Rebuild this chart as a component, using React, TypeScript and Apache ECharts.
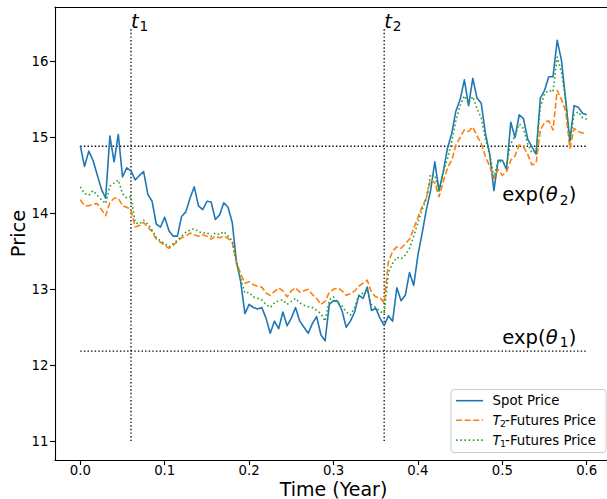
import React, { useEffect, useRef } from "react";
import * as echarts from "echarts";

// ---- data ----
const TIME_STEP = 0.005; // years between samples, t = 0 ... 0.6

const spotPrice = [
  14.89, 14.62, 14.82, 14.70, 14.51, 14.32, 14.20, 15.02, 14.68, 15.04,
  14.48, 14.60, 14.56, 14.44, 14.50, 14.55, 14.25, 14.16, 13.86, 13.82,
  13.95, 13.77, 13.70, 13.70, 13.96, 14.02, 14.20, 14.35, 14.10, 14.05,
  14.16, 14.15, 13.92, 13.98, 14.14, 14.08, 13.88, 13.36, 13.10, 12.68,
  12.80, 12.76, 12.74, 12.76, 12.62, 12.42, 12.58, 12.48, 12.70, 12.52,
  12.62, 12.76, 12.58, 12.50, 12.42, 12.55, 12.64, 12.40, 12.32, 12.80,
  12.85, 12.84, 12.72, 12.50, 12.58, 12.70, 12.92, 12.88, 13.03, 12.72,
  12.75, 12.62, 12.52, 12.65, 12.58, 13.02, 12.85, 12.92, 13.22, 13.05,
  13.45, 13.74, 14.05, 14.30, 14.68, 14.30, 14.55, 14.86, 15.05, 15.35,
  15.50, 15.76, 15.42, 15.78, 15.52, 15.45, 15.05, 14.78, 14.30, 14.70,
  14.70, 14.58, 15.20, 15.00, 15.30, 15.25, 14.98, 14.88, 14.78, 15.52,
  15.62, 15.80, 15.80, 16.28, 16.02, 15.50, 14.95, 15.42, 15.40, 15.32,
  15.30,
];

const t2FuturesPrice = [
  14.18, 14.10, 14.10, 14.12, 14.13, 14.05, 13.97, 14.14, 14.20, 14.20,
  14.10, 14.08, 14.05, 13.82, 13.84, 13.88, 13.82, 13.76, 13.66, 13.62,
  13.58, 13.54, 13.58, 13.63, 13.68, 13.70, 13.74, 13.72, 13.70, 13.72,
  13.70, 13.66, 13.70, 13.68, 13.70, 13.67, 13.62, 13.36, 13.20, 13.08,
  13.10, 13.06, 13.04, 13.03, 12.95, 12.92, 12.97, 13.02, 12.98, 12.90,
  12.98, 13.02, 12.96, 12.98, 13.00, 12.93, 12.88, 12.80, 12.84, 12.96,
  13.00, 13.02, 12.98, 12.92, 12.94, 12.98, 13.04, 13.08, 13.12, 12.96,
  12.90, 12.89, 12.82, 13.36, 13.50, 13.56, 13.54, 13.60, 13.66, 13.80,
  13.95, 14.09, 14.20, 14.45, 14.40, 14.22, 14.42, 14.60, 14.70, 14.90,
  15.00, 15.10, 15.08, 15.14, 15.02, 14.92, 14.75, 14.62, 14.46, 14.58,
  14.50, 14.55, 14.70, 14.76, 14.90, 14.88, 14.78, 14.64, 14.66, 15.10,
  15.20, 15.22, 15.10, 15.62, 15.50, 15.35, 14.86, 15.12, 15.08, 15.06,
  15.06,
];

const t1FuturesPrice = [
  14.35, 14.26, 14.24, 14.30, 14.24, 14.18, 14.13, 14.36, 14.40, 14.44,
  14.26, 14.20, 14.22, 13.88, 13.86, 13.91, 13.86, 13.78, 13.68, 13.64,
  13.60, 13.56, 13.60, 13.65, 13.70, 13.75, 13.78, 13.80, 13.76, 13.74,
  13.75, 13.70, 13.74, 13.72, 13.76, 13.70, 13.64, 13.34, 13.14, 12.95,
  12.96, 12.90, 12.88, 12.86, 12.80, 12.76, 12.82, 12.85, 12.86, 12.80,
  12.84, 12.88, 12.82, 12.79, 12.77, 12.76, 12.72, 12.68, 12.58, 12.86,
  12.90, 12.82, 12.78, 12.70, 12.66, 12.76, 12.92, 12.95, 12.99, 12.80,
  12.76, 12.71, 12.68, 13.22, 13.34, 13.42, 13.40, 13.45, 13.54, 13.70,
  13.88, 14.05, 14.20, 14.52, 14.50, 14.28, 14.55, 14.72, 14.95, 15.22,
  15.42, 15.55, 15.45, 15.54, 15.38, 15.26, 14.98, 14.78, 14.48, 14.70,
  14.66, 14.65, 14.92, 15.02, 15.18, 15.12, 14.92, 14.80, 14.82, 15.40,
  15.58, 15.62, 15.60, 16.06, 15.86, 15.50, 14.94, 15.30, 15.34, 15.26,
  15.24,
];

const xTicks = [0, 0.1, 0.2, 0.3, 0.4, 0.5, 0.6];
const yTicks = [11, 12, 13, 14, 15, 16];

const maturityTimes = [0.06, 0.36]; // t1, t2
const maturityLabels = ["1", "2"];
const verticalLineSpan = [11, 16.45];
const thetaLevels = [12.185, 14.885]; // exp(theta1), exp(theta2)
const thetaLabelY = [12.28, 14.16];
const thetaLabelX = 0.5;
const horizontalLineSpan = [0, 0.6];

const legendItems = [
  { main: "Spot Price", italic: "", sub: "" },
  { main: "-Futures Price", italic: "T", sub: "2" },
  { main: "-Futures Price", italic: "T", sub: "1" },
];

// ---- styles ----
const FONT = "'DejaVu Sans', sans-serif";
const BLUE = "#1f77b4";
const ORANGE = "#ff7f0e";
const GREEN = "#2ca02c";
const LW = 1.6;
const DASH = [6, 2.6];
const DOT = [1.6, 2.6];
const REF_DOT = [1.4, 2.2];

const toPoints = (vals: number[]) =>
  vals.map((v, i) => [Number((i * TIME_STEP).toFixed(3)), v]);

const CENTRAL = 0.346; // central baseline offset (em) for DejaVu Sans

type Part = { text: string; dx: number; dy?: number; size: number; italic?: boolean };

const mathText = (x0: number, base: number, parts: Part[]) =>
  parts.map((p) => ({
    type: "text",
    x: x0 + p.dx,
    y: base + (p.dy || 0) - CENTRAL * p.size,
    silent: true,
    z: 100,
    style: {
      text: p.text,
      fontSize: p.size,
      fontStyle: p.italic ? "italic" : "normal",
      fontFamily: FONT,
      fill: "#000",
      align: "left",
      verticalAlign: "middle",
    },
  }));

export default function App() {
  const ref = useRef<HTMLDivElement>(null);

  useEffect(() => {
    if (!ref.current) return;
    const chart = echarts.init(ref.current, undefined, { renderer: "svg" });

    const refLine = (data: number[][]) => ({
      type: "line",
      data,
      symbol: "none",
      silent: true,
      color: "#000",
      lineStyle: { color: "#000", width: 1.3, type: REF_DOT, cap: "butt" },
      z: 1,
    });

    const series: any[] = [];
    maturityTimes.forEach((t) =>
      series.push(refLine([[t, verticalLineSpan[0]], [t, verticalLineSpan[1]]]))
    );
    thetaLevels.forEach((lv) =>
      series.push(refLine([[horizontalLineSpan[0], lv], [horizontalLineSpan[1], lv]]))
    );
    series.push(
      {
        type: "line",
        name: "Spot Price",
        data: toPoints(spotPrice),
        symbol: "none",
        color: BLUE,
        lineStyle: { color: BLUE, width: LW, join: "round" },
        z: 2,
      },
      {
        type: "line",
        name: "T2-Futures Price",
        data: toPoints(t2FuturesPrice),
        symbol: "none",
        color: ORANGE,
        lineStyle: { color: ORANGE, width: LW, type: DASH, cap: "butt", join: "round" },
        z: 3,
      },
      {
        type: "line",
        name: "T1-Futures Price",
        data: toPoints(t1FuturesPrice),
        symbol: "none",
        color: GREEN,
        lineStyle: { color: GREEN, width: LW, type: DOT, cap: "butt", join: "round" },
        z: 4,
      }
    );

    const axisLineStyle = { color: "#000", width: 1.1 };
    const labelStyle = { color: "#000", fontSize: 13.3, lineHeight: 13.3, fontFamily: FONT };

    chart.setOption({
      animation: false,
      backgroundColor: "#fff",
      grid: { left: 55, top: 7, right: 0, bottom: 39, containLabel: false },
      xAxis: [
        {
          type: "value",
          min: -0.03,
          max: 0.624,
          position: "bottom",
          axisLine: { show: true, onZero: false, lineStyle: axisLineStyle },
          axisTick: { show: true, length: 5, customValues: xTicks, lineStyle: axisLineStyle },
          axisLabel: {
            ...labelStyle,
            customValues: xTicks,
            margin: 3.7,
            formatter: (v: number) => v.toFixed(1),
          },
          splitLine: { show: false },
        },
        {
          type: "value",
          min: -0.03,
          max: 0.624,
          position: "top",
          axisLine: { show: true, onZero: false, lineStyle: axisLineStyle },
          axisTick: { show: false },
          axisLabel: { show: false },
          splitLine: { show: false },
        },
      ],
      yAxis: {
        type: "value",
        min: 10.75,
        max: 16.72,
        axisLine: { show: true, onZero: false, lineStyle: axisLineStyle },
        axisTick: { show: true, length: 5, customValues: yTicks, lineStyle: axisLineStyle },
        axisLabel: {
          ...labelStyle,
          customValues: yTicks,
          margin: 6.5,
          formatter: (v: number) => String(v),
        },
        splitLine: { show: false },
      },
      series,
    });

    const px = (x: number, y: number) =>
      chart.convertToPixel({ gridIndex: 0 }, [x, y]) as number[];

    const elements: any[] = [];

    // t1, t2 labels
    maturityTimes.forEach((t, i) => {
      const p = px(t, verticalLineSpan[1]);
      elements.push(
        ...mathText(p[0], p[1] + 0.5, [
          { text: "t", dx: 0, size: 19.5, italic: true },
          { text: maturityLabels[i], dx: 8.5, dy: 3, size: 13.65 },
        ])
      );
    });

    // exp(theta) labels
    thetaLabelY.forEach((yv, i) => {
      const p = px(thetaLabelX, yv);
      elements.push(
        ...mathText(p[0], p[1], [
          { text: "exp(", dx: 0, size: 19.5 },
          { text: "θ", dx: 43.5, size: 19.5, italic: true },
          { text: String(i + 1), dx: 57.5, dy: 3, size: 13.65 },
          { text: ")", dx: 66.5, size: 19.5 },
        ])
      );
    });

    // axis titles
    elements.push({
      type: "text",
      x: 333.5,
      y: 489.2,
      silent: true,
      style: {
        text: "Time (Year)",
        fontSize: 19,
        lineHeight: 17,
        fontFamily: FONT,
        fill: "#000",
        align: "center",
        verticalAlign: "middle",
      },
    });
    elements.push({
      type: "text",
      x: 18.3,
      y: 233.5,
      rotation: Math.PI / 2,
      silent: true,
      style: {
        text: "Price",
        fontSize: 19.5,
        fontFamily: FONT,
        fill: "#000",
        align: "center",
        verticalAlign: "middle",
      },
    });

    // legend
    const lx = 451;
    const ly = 389.5;
    elements.push({
      type: "rect",
      shape: { x: lx, y: ly, width: 155, height: 63, r: 3 },
      silent: true,
      z: 90,
      style: { fill: "rgba(255,255,255,0.8)", stroke: "#cccccc", lineWidth: 1 },
    });
    const rowY = [400.7, 420.3, 440.1];
    const rowStyles = [
      { color: BLUE, dash: null },
      { color: ORANGE, dash: DASH },
      { color: GREEN, dash: DOT },
    ];
    legendItems.forEach((item, i) => {
      const y = rowY[i];
      elements.push({
        type: "line",
        shape: { x1: 456, y1: y, x2: 483, y2: y },
        silent: true,
        z: 95,
        style: {
          stroke: rowStyles[i].color,
          lineWidth: LW,
          lineDash: rowStyles[i].dash || undefined,
          lineCap: "butt",
        },
      });
      const base = y + CENTRAL * 13.3;
      if (item.italic) {
        elements.push(
          ...mathText(492.5, base, [
            { text: item.italic, dx: 0, size: 13.3, italic: true },
            { text: item.sub, dx: 7.6, dy: 2.2, size: 9.3 },
            { text: item.main, dx: 12.6, size: 13.3 },
          ])
        );
      } else {
        elements.push(...mathText(492.5, base, [{ text: item.main, dx: 0, size: 13.3 }]));
      }
    });

    chart.setOption({ graphic: { elements } });

    return () => chart.dispose();
  }, []);

  return (
    <div
      ref={ref}
      style={{ position: "fixed", left: 0, top: 0, width: 607, height: 499, background: "#fff" }}
    />
  );
}
